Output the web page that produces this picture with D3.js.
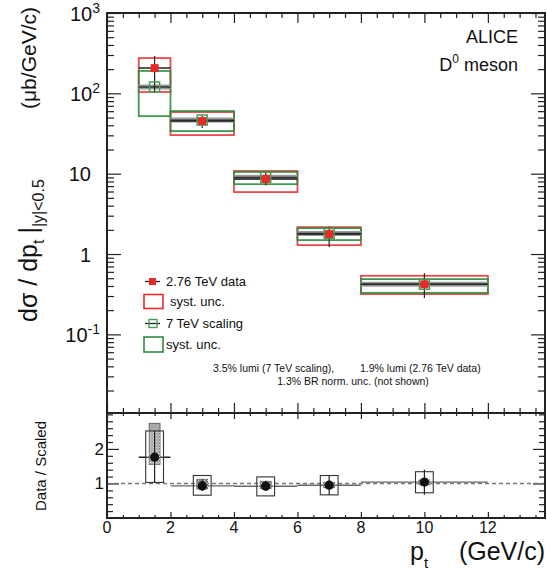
<!DOCTYPE html>
<html>
<head>
<meta charset="utf-8">
<script src="https://cdn.jsdelivr.net/npm/d3@7"></script>
<style>
  body { margin: 0; background: #fff; }
  text { font-family: "Liberation Sans", Arial, sans-serif; fill: #111; }
</style>
</head>
<body>
<div id="canvas"></div>
<script>
// pt bins (GeV/c)
const binLo = [1, 2, 4, 6, 8];
const binHi = [2, 4, 6, 8, 12];
const ptCenter = [1.5, 3, 5, 7, 10];

// 2.76 TeV data (ub/GeV/c)
const data276 = [206, 45.2, 8.6, 1.77, 0.42];
const statLo276 = [101, 37, 7.2, 1.22, 0.283];
const statHi276 = [292, 53.7, 10.2, 2.18, 0.575];
const systLo276 = [104, 30.2, 5.9, 1.29, 0.317];
const systHi276 = [275, 58.5, 10.8, 2.16, 0.536];

// 7 TeV scaled reference
const scaled7 = [120, 46.5, 9.0, 1.8, 0.42];
const systLo7 = [52, 33.9, 7.4, 1.49, 0.329];
const systHi7 = [190, 60.2, 10.5, 2.1, 0.487];

// ratio data / scaled
const ratio = [1.76, 0.93, 0.92, 0.95, 1.04];
const ratioStatLo = [1.03, 0.78, 0.78, 0.67, 0.67];
const ratioStatHi = [2.52, 1.12, 1.08, 1.23, 1.4];
const ratioSystLo = [1.03, 0.66, 0.64, 0.67, 0.73];
const ratioSystHi = [2.52, 1.23, 1.19, 1.23, 1.34];
const ratioScaleLo = [1.55, 0.84, 0.85, 0.88, 0.96];
const ratioScaleHi = [2.74, 1.12, 1.06, 1.03, 1.1];

const xMajor = [0, 2, 4, 6, 8, 10, 12];
const yDecades = [0.1, 1, 10, 100, 1000];
const yDecadeLabels = [["10", "-1"], ["1", ""], ["10", ""], ["10", "2"], ["10", "3"]];
const ratioMajor = [1, 2];

const width = 547;
const height = 584;
const pLeft = 107, pRight = 545, pTop = 13, pMid = 413, pBottom = 518;

const svg = d3.select("#canvas").append("svg")
  .attr("width", width)
  .attr("height", height);

const x = d3.scaleLinear().domain([0, 13.8]).range([pLeft, pRight]);
const y = d3.scaleLog().domain([0.0105, 1000]).range([pMid, pTop]);
const yr = d3.scaleLinear().domain([0, 3.04]).range([pBottom, pMid]);

const defs = svg.append("defs");
const pat = defs.append("pattern")
  .attr("id", "hatch")
  .attr("width", 3).attr("height", 3)
  .attr("patternUnits", "userSpaceOnUse");
pat.append("rect").attr("width", 1).attr("height", 1).attr("fill", "#fff").attr("opacity", 0.7);
pat.append("rect").attr("x", 1.5).attr("y", 1.5).attr("width", 1).attr("height", 1).attr("fill", "#fff").attr("opacity", 0.7);

// minor tick helpers
const xMinor = d3.range(0, 13.8, 0.5).filter((v) => v % 2 !== 0);
const yMinor = [];
[0.01, 0.1, 1, 10, 100].forEach((d) => {
  for (let k = 2; k <= 9; k++) if (d * k > 0.0105) yMinor.push(d * k);
});
const rMinor = d3.range(0.2, 3.04, 0.2).filter((v) => Math.abs(v - 1) > 0.01 && Math.abs(v - 2) > 0.01);

function ticks(axis, pos, vals, size) {
  svg.append("g")
    .attr("transform", pos)
    .call(axis.tickValues(vals).tickSize(size).tickFormat(""))
    .call((g) => g.select(".domain").remove())
    .selectAll("line").attr("stroke", "#222").attr("stroke-width", 1.2);
}

// ---- top panel ticks
ticks(d3.axisLeft(y), `translate(${pLeft},0)`, yDecades, -14);
ticks(d3.axisLeft(y), `translate(${pLeft},0)`, yMinor, -7);
ticks(d3.axisRight(y), `translate(${pRight},0)`, yDecades, -14);
ticks(d3.axisRight(y), `translate(${pRight},0)`, yMinor, -7);
ticks(d3.axisTop(x), `translate(0,${pTop})`, xMajor, -10);
ticks(d3.axisTop(x), `translate(0,${pTop})`, xMinor, -5);
ticks(d3.axisBottom(x), `translate(0,${pMid})`, xMajor, -10);
ticks(d3.axisBottom(x), `translate(0,${pMid})`, xMinor, -5);

// ---- ratio panel ticks
ticks(d3.axisLeft(yr), `translate(${pLeft},0)`, ratioMajor, -12);
ticks(d3.axisLeft(yr), `translate(${pLeft},0)`, rMinor, -6);
ticks(d3.axisRight(yr), `translate(${pRight},0)`, ratioMajor, -12);
ticks(d3.axisRight(yr), `translate(${pRight},0)`, rMinor, -6);
ticks(d3.axisTop(x), `translate(0,${pMid})`, xMajor, -6);
ticks(d3.axisTop(x), `translate(0,${pMid})`, xMinor, -3);
ticks(d3.axisBottom(x), `translate(0,${pBottom})`, xMajor, -6);
ticks(d3.axisBottom(x), `translate(0,${pBottom})`, xMinor, -3);

const idx = d3.range(binLo.length);
const red = "#e8292a";
const green = "#2e8b3e";

// ---- top panel marks
const gt = svg.append("g");
gt.selectAll(".sys276").data(idx).enter().append("rect")
  .attr("x", (i) => x(binLo[i]))
  .attr("y", (i) => y(systHi276[i]))
  .attr("width", (i) => x(binHi[i]) - x(binLo[i]))
  .attr("height", (i) => y(systLo276[i]) - y(systHi276[i]))
  .attr("fill", "none").attr("stroke", red).attr("stroke-width", 1.8).attr("opacity", 0.85);

gt.selectAll(".sys7").data(idx).enter().append("rect")
  .attr("x", (i) => x(binLo[i]))
  .attr("y", (i) => y(systHi7[i]))
  .attr("width", (i) => x(binHi[i]) - x(binLo[i]))
  .attr("height", (i) => y(systLo7[i]) - y(systHi7[i]))
  .attr("fill", "none").attr("stroke", green).attr("stroke-width", 1.8).attr("opacity", 0.9);

gt.selectAll(".band7").data(idx).enter().append("line")
  .attr("x1", (i) => x(binLo[i])).attr("x2", (i) => x(binHi[i]))
  .attr("y1", (i) => y(scaled7[i])).attr("y2", (i) => y(scaled7[i]))
  .attr("stroke", "#999").attr("stroke-width", 5);
gt.selectAll(".line7").data(idx).enter().append("line")
  .attr("x1", (i) => x(binLo[i])).attr("x2", (i) => x(binHi[i]))
  .attr("y1", (i) => y(scaled7[i])).attr("y2", (i) => y(scaled7[i]))
  .attr("stroke", "#333").attr("stroke-width", 1.3);
gt.selectAll(".xerr").data(idx).enter().append("line")
  .attr("x1", (i) => x(binLo[i])).attr("x2", (i) => x(binHi[i]))
  .attr("y1", (i) => y(data276[i])).attr("y2", (i) => y(data276[i]))
  .attr("stroke", "#222").attr("stroke-width", 1.5);
gt.selectAll(".yerr").data(idx).enter().append("line")
  .attr("x1", (i) => x(ptCenter[i])).attr("x2", (i) => x(ptCenter[i]))
  .attr("y1", (i) => y(statLo276[i])).attr("y2", (i) => y(statHi276[i]))
  .attr("stroke", "#222").attr("stroke-width", 1.2);
gt.selectAll(".m7").data(idx).enter().append("rect")
  .attr("x", (i) => x(ptCenter[i]) - 5).attr("y", (i) => y(scaled7[i]) - 5)
  .attr("width", 10).attr("height", 10)
  .attr("fill", "none").attr("stroke", "#4a9d58").attr("stroke-width", 1.5);
gt.selectAll(".m276").data(idx).enter().append("rect")
  .attr("x", (i) => x(ptCenter[i]) - 4).attr("y", (i) => y(data276[i]) - 4)
  .attr("width", 8).attr("height", 8)
  .attr("fill", red);

// ---- legend
const lg = svg.append("g").style("font-size", "13px");
lg.append("line").attr("x1", 145).attr("x2", 160).attr("y1", 281.5).attr("y2", 281.5).attr("stroke", "#222").attr("stroke-width", 1.3);
lg.append("rect").attr("x", 149).attr("y", 278).attr("width", 7).attr("height", 7).attr("fill", red);
lg.append("text").attr("x", 166).attr("y", 286).text("2.76 TeV data");
lg.append("rect").attr("x", 144).attr("y", 294.5).attr("width", 19).attr("height", 14).attr("fill", "none").attr("stroke", red).attr("stroke-width", 1.6);
lg.append("text").attr("x", 170).attr("y", 306).text("syst. unc.");
lg.append("line").attr("x1", 145).attr("x2", 160).attr("y1", 323.5).attr("y2", 323.5).attr("stroke", "#222").attr("stroke-width", 1.3);
lg.append("rect").attr("x", 149).attr("y", 319.5).attr("width", 8).attr("height", 8).attr("fill", "none").attr("stroke", "#4a9d58").attr("stroke-width", 1.4);
lg.append("text").attr("x", 166).attr("y", 328).text("7 TeV scaling");
lg.append("rect").attr("x", 144).attr("y", 337).attr("width", 19).attr("height", 15).attr("fill", "none").attr("stroke", green).attr("stroke-width", 1.6);
lg.append("text").attr("x", 166).attr("y", 349).text("syst. unc.");

// ---- annotations
const an = svg.append("g").style("font-size", "10.5px");
an.append("text").attr("x", 213).attr("y", 372).text("3.5% lumi (7 TeV scaling),");
an.append("text").attr("x", 360).attr("y", 372).text("1.9% lumi (2.76 TeV data)");
an.append("text").attr("x", 353).attr("y", 385).attr("text-anchor", "middle").text("1.3% BR norm. unc. (not shown)");

svg.append("text").attr("x", 518).attr("y", 43).attr("text-anchor", "end").style("font-size", "18px").text("ALICE");
const dm = svg.append("text").attr("x", 518).attr("y", 71).attr("text-anchor", "end").style("font-size", "18px");
dm.append("tspan").text("D");
dm.append("tspan").attr("dy", -8).style("font-size", "12px").text("0");
dm.append("tspan").attr("dy", 8).text(" meson");

// ---- ratio panel marks
const gr = svg.append("g");
gr.append("line")
  .attr("x1", x(0)).attr("x2", x(13.8)).attr("y1", yr(1)).attr("y2", yr(1))
  .attr("stroke", "#777").attr("stroke-width", 1.5).attr("stroke-dasharray", "4,3");
gr.selectAll(".rx").data(idx).enter().append("line")
  .attr("x1", (i) => x(binLo[i])).attr("x2", (i) => x(binHi[i]))
  .attr("y1", (i) => yr(ratio[i])).attr("y2", (i) => yr(ratio[i]))
  .attr("stroke", (i) => (i === 0 ? "#222" : "#666")).attr("stroke-width", 1.4);
gr.selectAll(".rsc").data(idx).enter().append("rect")
  .attr("x", (i) => x(ptCenter[i] - 0.17)).attr("y", (i) => yr(ratioScaleHi[i]))
  .attr("width", (i) => x(ptCenter[i] + 0.17) - x(ptCenter[i] - 0.17))
  .attr("height", (i) => yr(ratioScaleLo[i]) - yr(ratioScaleHi[i]))
  .attr("fill", (i) => (i === 0 ? "#a8a8a8" : "#7a7a7a")).attr("stroke", "#666").attr("stroke-width", 1);
gr.selectAll(".rsy").data(idx).enter().append("rect")
  .attr("x", (i) => x(ptCenter[i] - 0.28)).attr("y", (i) => yr(ratioSystHi[i]))
  .attr("width", (i) => x(ptCenter[i] + 0.28) - x(ptCenter[i] - 0.28))
  .attr("height", (i) => yr(ratioSystLo[i]) - yr(ratioSystHi[i]))
  .attr("fill", "url(#hatch)").attr("stroke", "#333").attr("stroke-width", 1.1);
gr.selectAll(".ry").data(idx).enter().append("line")
  .attr("x1", (i) => x(ptCenter[i])).attr("x2", (i) => x(ptCenter[i]))
  .attr("y1", (i) => yr(ratioStatLo[i])).attr("y2", (i) => yr(ratioStatHi[i]))
  .attr("stroke", "#222").attr("stroke-width", 1.2);
gr.selectAll(".rp").data(idx).enter().append("circle")
  .attr("cx", (i) => x(ptCenter[i])).attr("cy", (i) => yr(ratio[i]))
  .attr("r", 4.6).attr("fill", "#111");

// ---- frames
svg.append("rect").attr("x", pLeft).attr("y", pTop).attr("width", pRight - pLeft).attr("height", pMid - pTop)
  .attr("fill", "none").attr("stroke", "#222").attr("stroke-width", 2);
svg.append("rect").attr("x", pLeft).attr("y", pMid).attr("width", pRight - pLeft).attr("height", pBottom - pMid)
  .attr("fill", "none").attr("stroke", "#222").attr("stroke-width", 2);

// ---- tick labels
yDecades.forEach((v, i) => {
  const [base, sup] = yDecadeLabels[i];
  const t = svg.append("text")
    .attr("x", sup ? 100 : 91).attr("y", y(v) + 7.5)
    .attr("text-anchor", "end").style("font-size", "20px");
  t.append("tspan").text(base);
  if (sup) t.append("tspan").attr("dy", -8).style("font-size", "14px").text(sup);
});
ratioMajor.forEach((v) => {
  svg.append("text").attr("x", 104).attr("y", yr(v) + 6)
    .attr("text-anchor", "end").style("font-size", "17px").text(v);
});
xMajor.forEach((v) => {
  svg.append("text").attr("x", x(v)).attr("y", 533)
    .attr("text-anchor", "middle").style("font-size", "16px").text(v);
});

// ---- axis titles
const yt = svg.append("text").attr("transform", "translate(37,322) rotate(-90)").style("font-size", "25px");
yt.append("tspan").text("d\u03c3 / dp");
yt.append("tspan").attr("dy", 7).style("font-size", "16px").text("t");
yt.append("tspan").attr("dy", -7).attr("dx", 6).text("|");
yt.append("tspan").attr("dy", 7).style("font-size", "16px").text("|y|<0.5");
svg.append("text").attr("transform", "translate(36,7) rotate(-90)")
  .attr("text-anchor", "end").style("font-size", "21px").text("(\u03bcb/GeV/c)");

svg.append("text").attr("transform", "translate(46,466) rotate(-90)")
  .attr("text-anchor", "middle").style("font-size", "15px").text("Data / Scaled");

const xt = svg.append("text").attr("x", 410).attr("y", 560).style("font-size", "25px");
xt.append("tspan").text("p");
xt.append("tspan").attr("dy", 8).style("font-size", "15px").text("t");
svg.append("text").attr("x", 545).attr("y", 560).attr("text-anchor", "end")
  .style("font-size", "25px").text("(GeV/c)");
</script>
</body>
</html>
